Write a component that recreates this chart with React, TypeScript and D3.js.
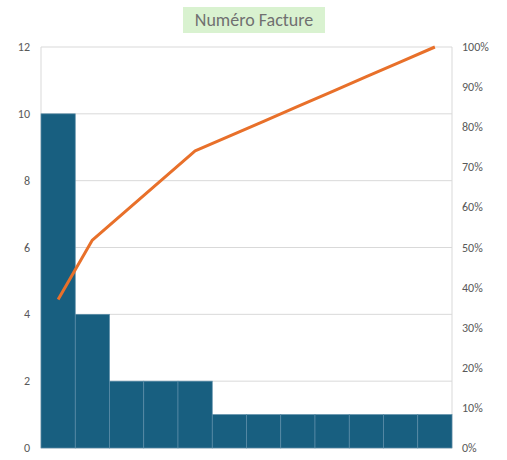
import * as d3 from "d3";

const categories = ["1","2","3","4","5","6","7","8","9","10","11","12"];
const counts = [10, 4, 2, 2, 2, 1, 1, 1, 1, 1, 1, 1];
const leftTicks = [0, 2, 4, 6, 8, 10, 12];
const rightTicks = [0, 0.1, 0.2, 0.3, 0.4, 0.5, 0.6, 0.7, 0.8, 0.9, 1];

export default function App() {
  const W = 507, H = 460;
  const m = { left: 41, right: 55, top: 47, bottom: 12 };
  const x = d3.scaleBand().domain(categories).range([m.left, W - m.right]).padding(0);
  const y = d3.scaleLinear().domain([0, 12]).range([H - m.bottom, m.top]);
  const yr = d3.scaleLinear().domain([0, 1]).range([H - m.bottom, m.top]);
  const total = d3.sum(counts);
  const cum = d3.cumsum(counts).map((c) => c / total);
  const line = d3.line<number>().x((_, i) => x(categories[i])! + x.bandwidth() / 2).y((d) => yr(d));
  const font = "Calibri, 'Liberation Sans', Arial, sans-serif";
  return (
    <div style={{ position: "absolute", left: 0, top: 0 }}>
      <svg width={W} height={H} style={{ display: "block", background: "#fff" }} fontFamily={font}>
        <rect x={183} y={7} width={142} height={26} fill="#d9f2d0" />
        <text x={254} y={26} textAnchor="middle" fontSize={18} fill="#707070">Numéro Facture</text>
        {leftTicks.map((t) => (
          <g key={t}>
            <line x1={m.left} x2={W - m.right} y1={y(t)} y2={y(t)} stroke="#d9d9d9" />
            <text x={30} y={y(t) + 4} textAnchor="end" fontSize={12} fill="#595959">{t}</text>
          </g>
        ))}
        {rightTicks.map((t) => (
          <text key={t} x={462} y={yr(t) + 4} fontSize={12} fill="#595959">{Math.round(t * 100)}%</text>
        ))}
        <line x1={m.left} x2={m.left} y1={m.top} y2={H - m.bottom} stroke="#d9d9d9" />
        <line x1={W - m.right} x2={W - m.right} y1={m.top} y2={H - m.bottom} stroke="#d9d9d9" />
        {counts.map((c, i) => (
          <rect key={i} x={x(categories[i])!} y={y(c)} width={x.bandwidth()} height={y(0) - y(c)}
            fill="#185f80" stroke="#5c8ea8" strokeWidth={0.7} />
        ))}
        <path d={line(cum)!} fill="none" stroke="#e8702a" strokeWidth={3} strokeLinejoin="round" />
      </svg>
    </div>
  );
}
